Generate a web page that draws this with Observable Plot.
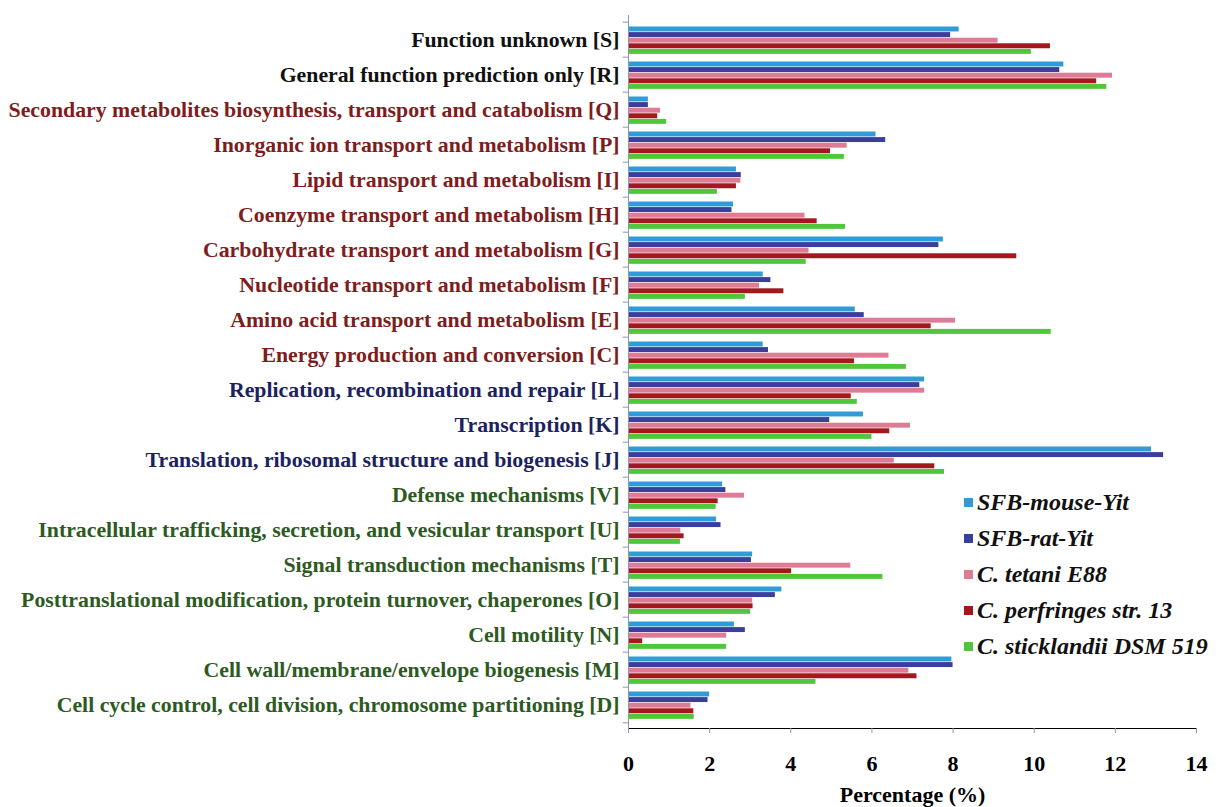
<!DOCTYPE html>
<html>
<head>
<meta charset="utf-8">
<script src="https://cdn.jsdelivr.net/npm/d3@7"></script>
<script src="https://cdn.jsdelivr.net/npm/@observablehq/plot@0.6"></script>
<style>
  html, body { margin: 0; padding: 0; background: #fff; }
  #wrap { position: relative; width: 1216px; height: 807px; }
  #wrap svg [aria-label^="x-axis"] line,
  #wrap svg [aria-label^="x-axis"] path { stroke: #8797b4; }
  #legend { position: absolute; left: 964px; top: 485px; font-family: "Liberation Serif", "Times New Roman", serif;
            font-weight: bold; font-style: italic; font-size: 24px; color: #111; }
  #legend .item { height: 35.8px; display: flex; align-items: center; white-space: nowrap; }
  #legend .sw { width: 9px; height: 9px; margin-right: 4px; display: inline-block; }
</style>
</head>
<body>
<div id="wrap"></div>
<script>
const categories = [
  "Function unknown [S]",
  "General function prediction only [R]",
  "Secondary metabolites biosynthesis, transport and catabolism [Q]",
  "Inorganic ion transport and metabolism [P]",
  "Lipid transport and metabolism [I]",
  "Coenzyme transport and metabolism [H]",
  "Carbohydrate transport and metabolism [G]",
  "Nucleotide transport and metabolism [F]",
  "Amino acid transport and metabolism [E]",
  "Energy production and conversion [C]",
  "Replication, recombination and repair [L]",
  "Transcription [K]",
  "Translation, ribosomal structure and biogenesis [J]",
  "Defense mechanisms [V]",
  "Intracellular trafficking, secretion, and vesicular transport [U]",
  "Signal transduction mechanisms [T]",
  "Posttranslational modification, protein turnover, chaperones [O]",
  "Cell motility [N]",
  "Cell wall/membrane/envelope biogenesis [M]",
  "Cell cycle control, cell division, chromosome partitioning [D]"
];
const labelColors = [
  "#111111", "#111111",
  "#7d1d20", "#7d1d20", "#7d1d20", "#7d1d20", "#7d1d20", "#7d1d20", "#7d1d20", "#7d1d20",
  "#1c2260", "#1c2260", "#1c2260",
  "#2d5a1f", "#2d5a1f", "#2d5a1f", "#2d5a1f", "#2d5a1f", "#2d5a1f", "#2d5a1f"
];
const series = ["SFB-mouse-Yit", "SFB-rat-Yit", "C. tetani E88", "C. perfringes str. 13", "C. sticklandii DSM 519"];
const seriesColors = ["#2f9bd8", "#3a3e9c", "#de7b95", "#a3181c", "#4fc63c"];

const sfbMouse     = [8.15, 10.73, 0.49, 6.10, 2.66, 2.59, 7.76, 3.32, 5.59, 3.32, 7.30, 5.79, 12.89, 2.32, 2.17, 3.06, 3.78, 2.61, 7.97, 2.00];
const sfbRat       = [7.94, 10.63, 0.49, 6.34, 2.78, 2.55, 7.65, 3.51, 5.81, 3.45, 7.18, 4.96, 13.19, 2.40, 2.28, 3.03, 3.62, 2.88, 8.00, 1.96];
const cTetani      = [9.11, 11.93, 0.79, 5.39, 2.77, 4.35, 4.45, 3.23, 8.06, 6.42, 7.30, 6.95, 6.55, 2.86, 1.29, 5.48, 3.06, 2.42, 6.91, 1.54];
const cPerfringens = [10.40, 11.54, 0.72, 4.98, 2.66, 4.65, 9.57, 3.83, 7.46, 5.57, 5.49, 6.44, 7.55, 2.21, 1.37, 4.02, 3.07, 0.35, 7.11, 1.61];
const cSticklandii = [9.93, 11.79, 0.94, 5.32, 2.19, 5.35, 4.38, 2.88, 10.42, 6.85, 5.64, 6.00, 7.79, 2.16, 1.28, 6.27, 3.01, 2.42, 4.62, 1.62];
const seriesValues = [sfbMouse, sfbRat, cTetani, cPerfringens, cSticklandii];

const xTicks = [0, 2, 4, 6, 8, 10, 12, 14];

const width = 1216, height = 807;
const marginTop = 15, marginBottom = 79, marginLeft = 628, marginRight = 20;
const step = (height - marginTop - marginBottom) / categories.length;
const padTop = 4.5, barH = 5.6;
const axisColor = "#8797b4";

const rows = categories.flatMap((c, j) => series.map((s, i) => ({category: c, series: s, si: i, value: seriesValues[i][j]})));

const barMarks = series.map((s, i) =>
  Plot.barX(rows.filter(r => r.si === i), {
    y: "category", x: "value", fill: seriesColors[i],
    insetTop: padTop + i * barH,
    insetBottom: step - padTop - (i + 1) * barH
  })
);

const chart = Plot.plot({
  width, height, marginTop, marginBottom, marginLeft, marginRight,
  style: {fontFamily: "'Liberation Serif', 'Times New Roman', serif", fontSize: "22px", fontWeight: "bold", color: "#000", background: "#fff"},
  x: {domain: [0, 14], ticks: xTicks, tickSize: 5, tickPadding: 22, line: true,
      label: "Percentage (%)", labelArrow: "none", labelAnchor: "center", labelOffset: 73},
  y: {domain: categories, padding: 0, axis: null},
  color: {type: "identity"},
  marks: [
    ...barMarks,
    Plot.ruleX([0], {stroke: axisColor}),
    Plot.ruleY(categories, {y: d => d, x1: -0.13, x2: 0, dy: -step / 2, stroke: axisColor}),
    Plot.ruleY(categories.slice(-1), {y: d => d, x1: -0.13, x2: 0, dy: step / 2, stroke: axisColor}),
    Plot.text(categories, {y: d => d, text: d => d, frameAnchor: "left", textAnchor: "end", dx: -9,
      fill: (d, i) => labelColors[i], fontSize: 21.8, fontWeight: "bold"})
  ]
});

const wrap = document.getElementById("wrap");
wrap.appendChild(chart);
const legend = document.createElement("div");
legend.id = "legend";
series.forEach((s, i) => {
  const item = document.createElement("div");
  item.className = "item";
  const sw = document.createElement("span");
  sw.className = "sw";
  sw.style.background = seriesColors[i];
  item.appendChild(sw);
  item.appendChild(document.createTextNode(s));
  legend.appendChild(item);
});
wrap.appendChild(legend);
</script>
</body>
</html>
